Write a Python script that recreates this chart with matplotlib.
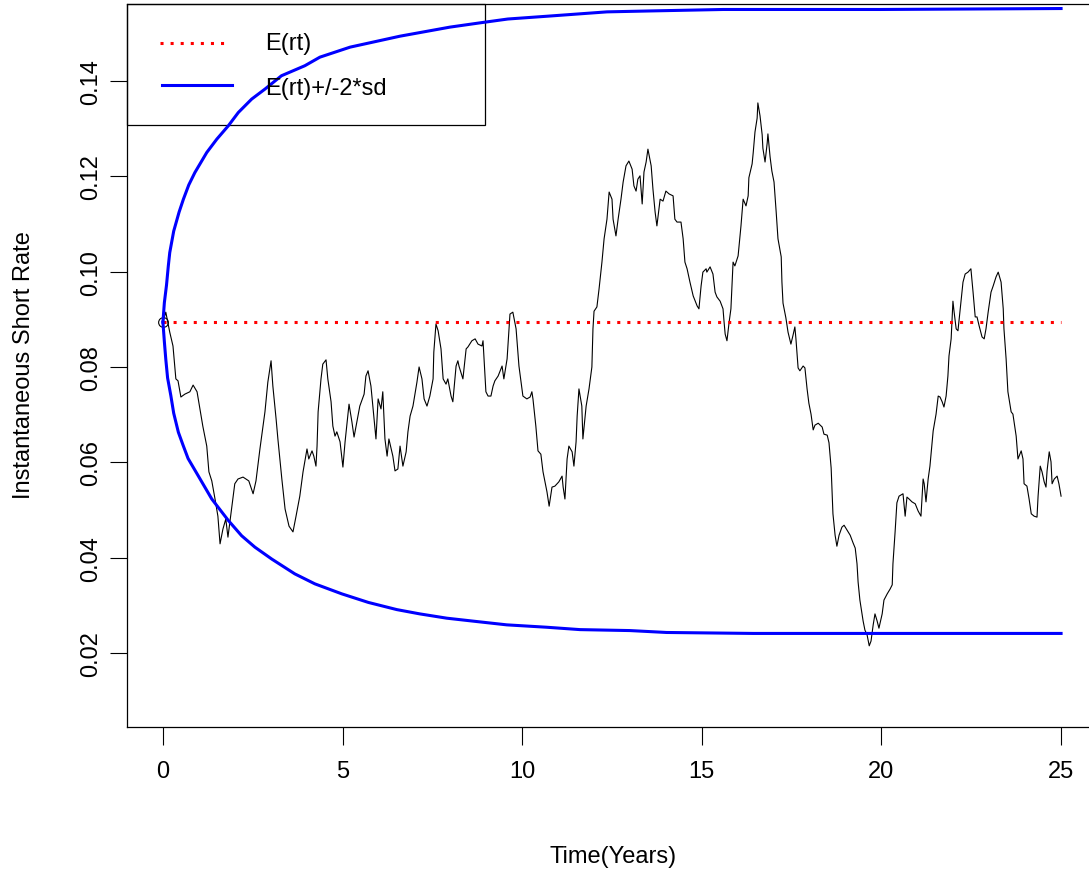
import matplotlib
matplotlib.use("Agg")
import matplotlib.pyplot as plt
from matplotlib.patches import Rectangle
from matplotlib.lines import Line2D

plt.rcParams['font.family'] = ['Liberation Sans', 'DejaVu Sans']

# simulated short rate path, split in pieces
t1 = [0, 0.08, 0.19, 0.28, 0.36, 0.42, 0.50, 0.61, 0.75, 0.84, 0.95, 1.03, 1.11, 1.22, 1.28, 1.36,
      1.45, 1.53, 1.59, 1.67, 1.75, 1.81, 1.92, 2.00, 2.09, 2.23, 2.39, 2.51, 2.59, 2.70, 2.84, 2.92,
      3.01, 3.06, 3.15, 3.20, 3.31, 3.40, 3.51, 3.62, 3.70]
r1 = [0.0894, 0.0915, 0.0873, 0.0844, 0.0775, 0.0771, 0.0737, 0.0743, 0.0748, 0.0762, 0.0748, 0.0712,
      0.0676, 0.0634, 0.0580, 0.0561, 0.0523, 0.0487, 0.0429, 0.0460, 0.0481, 0.0443, 0.0508, 0.0555,
      0.0565, 0.0569, 0.0561, 0.0534, 0.0561, 0.0628, 0.0706, 0.0768, 0.0813, 0.0760, 0.0691, 0.0649,
      0.0565, 0.0502, 0.0466, 0.0454, 0.0485]

t2 = [3.81, 3.90, 4.01, 4.06, 4.15, 4.20, 4.26, 4.29, 4.32, 4.40, 4.45, 4.54, 4.59, 4.68, 4.73, 4.79,
      4.84, 4.93, 5.01, 5.07, 5.18, 5.26, 5.32, 5.40, 5.48, 5.60, 5.65, 5.71, 5.79, 5.85, 5.93, 5.99,
      6.07, 6.12, 6.18, 6.24, 6.29, 6.40, 6.46, 6.54, 6.60, 6.68, 6.77, 6.82, 6.88, 6.96, 7.07, 7.13,
      7.21, 7.27, 7.35, 7.43, 7.52, 7.54, 7.60, 7.66, 7.74, 7.80, 7.88, 7.93, 8.02, 8.07, 8.16, 8.21]
r2 = [0.0529, 0.0580, 0.0628, 0.0607, 0.0624, 0.0613, 0.0592, 0.0634, 0.0706, 0.0775, 0.0806, 0.0815,
      0.0775, 0.0727, 0.0676, 0.0655, 0.0664, 0.0643, 0.0590, 0.0643, 0.0722, 0.0685, 0.0653, 0.0685,
      0.0718, 0.0743, 0.0781, 0.0792, 0.0760, 0.0712, 0.0649, 0.0733, 0.0712, 0.0748, 0.0649, 0.0613,
      0.0649, 0.0613, 0.0582, 0.0586, 0.0634, 0.0592, 0.0622, 0.0664, 0.0697, 0.0718, 0.0768, 0.0800,
      0.0775, 0.0733, 0.0718, 0.0739, 0.0775, 0.0831, 0.0890, 0.0876, 0.0838, 0.0775, 0.0764, 0.0775,
      0.0739, 0.0727, 0.0802, 0.0813]

t3 = [8.24, 8.35, 8.44, 8.49, 8.60, 8.69, 8.77, 8.88, 8.91, 8.99, 9.05, 9.13, 9.19, 9.24, 9.33, 9.44,
      9.49, 9.58, 9.66, 9.74, 9.83, 9.91, 10.02, 10.13, 10.22, 10.27, 10.30, 10.38, 10.44, 10.52,
      10.58, 10.69, 10.75, 10.83, 10.91, 11.02, 11.11, 11.14, 11.19, 11.25, 11.30, 11.39, 11.44,
      11.50, 11.53, 11.58, 11.66, 11.69, 11.78, 11.86]
r3 = [0.0802, 0.0775, 0.0838, 0.0842, 0.0855, 0.0859, 0.0848, 0.0844, 0.0855, 0.0748, 0.0739, 0.0739,
      0.0760, 0.0771, 0.0781, 0.0802, 0.0775, 0.0817, 0.0911, 0.0915, 0.0880, 0.0802, 0.0739, 0.0733,
      0.0737, 0.0748, 0.0733, 0.0676, 0.0624, 0.0617, 0.0580, 0.0538, 0.0508, 0.0548, 0.0550, 0.0559,
      0.0571, 0.0548, 0.0523, 0.0607, 0.0634, 0.0622, 0.0592, 0.0643, 0.0697, 0.0754, 0.0718, 0.0649,
      0.0718, 0.0754]

t4 = [11.94, 11.97, 12.00, 12.08, 12.14, 12.22, 12.28, 12.36, 12.42, 12.50, 12.53, 12.61, 12.67,
      12.75, 12.81, 12.89, 12.97, 13.06, 13.11, 13.17, 13.22, 13.28, 13.34, 13.39, 13.45, 13.50,
      13.59, 13.64, 13.70, 13.75, 13.84, 13.92, 14.00, 14.09, 14.20, 14.25, 14.31, 14.42, 14.48,
      14.53, 14.59, 14.67, 14.76, 14.87, 14.92, 14.98, 15.03, 15.12, 15.14, 15.23, 15.31, 15.37,
      15.42, 15.51, 15.59, 15.62, 15.65, 15.70, 15.76, 15.81, 15.87, 15.92, 16.01, 16.09, 16.15,
      16.23, 16.29]
r4 = [0.0800, 0.0880, 0.0917, 0.0926, 0.0964, 0.1020, 0.1069, 0.1110, 0.1167, 0.1152, 0.1110, 0.1075,
      0.1110, 0.1152, 0.1188, 0.1222, 0.1232, 0.1215, 0.1180, 0.1169, 0.1194, 0.1201, 0.1142, 0.1209,
      0.1230, 0.1257, 0.1222, 0.1173, 0.1125, 0.1096, 0.1152, 0.1148, 0.1169, 0.1163, 0.1159, 0.1110,
      0.1104, 0.1104, 0.1069, 0.1020, 0.1006, 0.0978, 0.0949, 0.0928, 0.0922, 0.0970, 0.0999, 0.1006,
      0.0999, 0.1010, 0.0995, 0.0957, 0.0947, 0.0938, 0.0922, 0.0894, 0.0869, 0.0855, 0.0894, 0.0922,
      0.1020, 0.1012, 0.1033, 0.1096, 0.1152, 0.1138, 0.1159]

t5 = [16.31, 16.40, 16.43, 16.48, 16.54, 16.56, 16.62, 16.68, 16.70, 16.76, 16.82, 16.84, 16.90,
      16.95, 17.01, 17.07, 17.12, 17.21, 17.23, 17.26, 17.34, 17.40, 17.48, 17.54, 17.59, 17.62,
      17.68, 17.73, 17.82, 17.87, 17.93, 17.98, 18.04, 18.10, 18.15, 18.24, 18.35, 18.40, 18.49,
      18.54, 18.60, 18.65, 18.71, 18.76, 18.82, 18.90, 18.96, 19.04, 19.13, 19.21, 19.27, 19.32,
      19.35, 19.40, 19.49, 19.54, 19.60, 19.66, 19.71, 19.77, 19.82, 19.88, 19.93, 20.02, 20.07,
      20.16, 20.24, 20.30, 20.32, 20.38, 20.43]
r5 = [0.1197, 0.1226, 0.1249, 0.1293, 0.1322, 0.1354, 0.1327, 0.1287, 0.1259, 0.1230, 0.1270, 0.1289,
      0.1241, 0.1211, 0.1188, 0.1125, 0.1069, 0.1031, 0.0978, 0.0934, 0.0903, 0.0873, 0.0848, 0.0867,
      0.0884, 0.0859, 0.0798, 0.0792, 0.0802, 0.0798, 0.0754, 0.0724, 0.0701, 0.0668, 0.0678, 0.0682,
      0.0674, 0.0659, 0.0657, 0.0641, 0.0588, 0.0492, 0.0447, 0.0424, 0.0447, 0.0464, 0.0468, 0.0458,
      0.0447, 0.0431, 0.0420, 0.0387, 0.0349, 0.0311, 0.0267, 0.0248, 0.0238, 0.0215, 0.0225, 0.0259,
      0.0282, 0.0267, 0.0252, 0.0282, 0.0311, 0.0324, 0.0334, 0.0343, 0.0387, 0.0454, 0.0515]

t6 = [20.49, 20.60, 20.66, 20.71, 20.77, 20.85, 20.94, 21.02, 21.10, 21.16, 21.19, 21.24, 21.30,
      21.35, 21.41, 21.44, 21.52, 21.58, 21.63, 21.69, 21.74, 21.80, 21.85, 21.88, 21.94, 21.99,
      22.02, 22.08, 22.13, 22.22, 22.27, 22.33, 22.41, 22.49, 22.55, 22.61, 22.66, 22.72, 22.80,
      22.86, 22.91, 22.97, 23.05, 23.11, 23.19, 23.25, 23.33, 23.39, 23.41, 23.47, 23.52, 23.61,
      23.66, 23.75, 23.80, 23.89, 23.94, 23.97, 24.05, 24.11, 24.17, 24.25, 24.33, 24.36, 24.42,
      24.47, 24.53, 24.58, 24.61, 24.67, 24.72, 24.75, 24.81, 24.89, 24.94, 25.00]
r6 = [0.0529, 0.0534, 0.0487, 0.0527, 0.0523, 0.0517, 0.0513, 0.0498, 0.0487, 0.0565, 0.0555, 0.0517,
      0.0565, 0.0592, 0.0643, 0.0666, 0.0701, 0.0739, 0.0737, 0.0727, 0.0716, 0.0739, 0.0781, 0.0823,
      0.0859, 0.0938, 0.0917, 0.0880, 0.0876, 0.0943, 0.0978, 0.0995, 0.0999, 0.1006, 0.0957, 0.0905,
      0.0905, 0.0886, 0.0863, 0.0859, 0.0880, 0.0915, 0.0957, 0.0970, 0.0989, 0.0999, 0.0978, 0.0922,
      0.0880, 0.0817, 0.0748, 0.0706, 0.0701, 0.0655, 0.0607, 0.0624, 0.0607, 0.0555, 0.0550, 0.0523,
      0.0492, 0.0487, 0.0485, 0.0529, 0.0592, 0.0580, 0.0559, 0.0548, 0.0582, 0.0622, 0.0601, 0.0555,
      0.0565, 0.0571, 0.0555, 0.0529]

path_t = t1 + t2 + t3 + t4 + t5 + t6
path_r = r1 + r2 + r3 + r4 + r5 + r6

# expected rate
mean_t = [0, 25]
mean_r = [0.0894, 0.0894]

# E(rt) +/- 2 sd
upper_t = [0, 0.04, 0.10, 0.15, 0.19, 0.30, 0.45, 0.57, 0.72, 0.89, 1.22, 1.50, 1.82, 2.10, 2.47,
           2.84, 3.30, 3.95, 4.37, 5.21, 6.60, 7.99, 8.83, 9.60, 10.72, 12.36, 13.61, 15.59, 19.96, 25]
upper_r = [0.0894, 0.0935, 0.0972, 0.1012, 0.1040, 0.1085, 0.1125, 0.1152, 0.1182, 0.1208, 0.1250,
           0.1278, 0.1306, 0.1334, 0.1362, 0.1383, 0.1411, 0.1432, 0.1450, 0.1471, 0.1494, 0.1513,
           0.1522, 0.1530, 0.1536, 0.1545, 0.1547, 0.1550, 0.1550, 0.1552]
lower_t = [0, 0.04, 0.08, 0.13, 0.22, 0.30, 0.43, 0.56, 0.70, 0.98, 1.36, 1.82, 2.19, 2.56, 3.03,
           3.67, 4.23, 4.98, 5.72, 6.51, 7.15, 7.90, 8.73, 9.57, 10.68, 11.61, 13.00, 14.02, 16.43, 25]
lower_r = [0.0894, 0.0853, 0.0816, 0.0777, 0.0740, 0.0703, 0.0663, 0.0636, 0.0608, 0.0572, 0.0523,
           0.0478, 0.0446, 0.0422, 0.0397, 0.0366, 0.0345, 0.0324, 0.0306, 0.0291, 0.0282, 0.0273,
           0.0266, 0.0259, 0.0254, 0.0249, 0.0247, 0.0243, 0.0241, 0.0241]

xticks = [0, 5, 10, 15, 20, 25]
yticks = [0.02, 0.04, 0.06, 0.08, 0.10, 0.12, 0.14]

fig = plt.figure(figsize=(10.89, 8.78), dpi=100)
# right edge of the box lies outside the picture, like the original
ax = fig.add_axes([127 / 1089, 150 / 878, 970 / 1089, 723 / 878])

ax.plot(path_t, path_r, color='black', lw=0.8)
ax.plot(path_t[0], path_r[0], 'o', mfc='none', mec='black', ms=7, mew=0.8)
ax.plot(mean_t, mean_r, color='red', lw=2.2, linestyle=(0, (1, 2.3)))
ax.plot(upper_t, upper_r, color='blue', lw=2.2)
ax.plot(lower_t, lower_r, color='blue', lw=2.2)

ax.set_xlim(-1, 26)
ax.set_ylim(0.00447, 0.15615)
ax.set_xticks(xticks)
ax.set_xticklabels([str(v) for v in xticks])
ax.set_yticks(yticks)
ax.set_yticklabels(['%.2f' % v for v in yticks], rotation=90, va='center')
ax.tick_params(axis='x', length=13, width=0.8, pad=11, labelsize=17)
ax.tick_params(axis='y', length=12, width=0.8, pad=6, labelsize=17)
for s in ax.spines.values():
    s.set_linewidth(0.9)

ax.set_xlabel('Time(Years)', fontsize=17)
ax.set_ylabel('Instantaneous Short Rate', fontsize=17)
ax.xaxis.set_label_coords(0.501, -0.178)
ax.xaxis.label.set_va('center')
ax.yaxis.set_label_coords(-0.106, 0.502)
ax.yaxis.label.set_va('center')

# legend drawn like R's box legend
ax.add_patch(Rectangle((0, 0.8326), 0.369, 0.1674, transform=ax.transAxes,
                       fill=False, ec='black', lw=0.9, clip_on=False))
ax.add_line(Line2D([0.034, 0.104], [0.946, 0.946], transform=ax.transAxes,
                   color='red', lw=2.2, linestyle=(0, (1, 2.3))))
ax.add_line(Line2D([0.036, 0.108], [0.888, 0.888], transform=ax.transAxes,
                   color='blue', lw=2.2))
ax.text(0.142, 0.946, 'E(rt)', transform=ax.transAxes, fontsize=17, va='center')
ax.text(0.142, 0.884, 'E(rt)+/-2*sd', transform=ax.transAxes, fontsize=17, va='center')

fig.savefig('out.png', dpi=100)
